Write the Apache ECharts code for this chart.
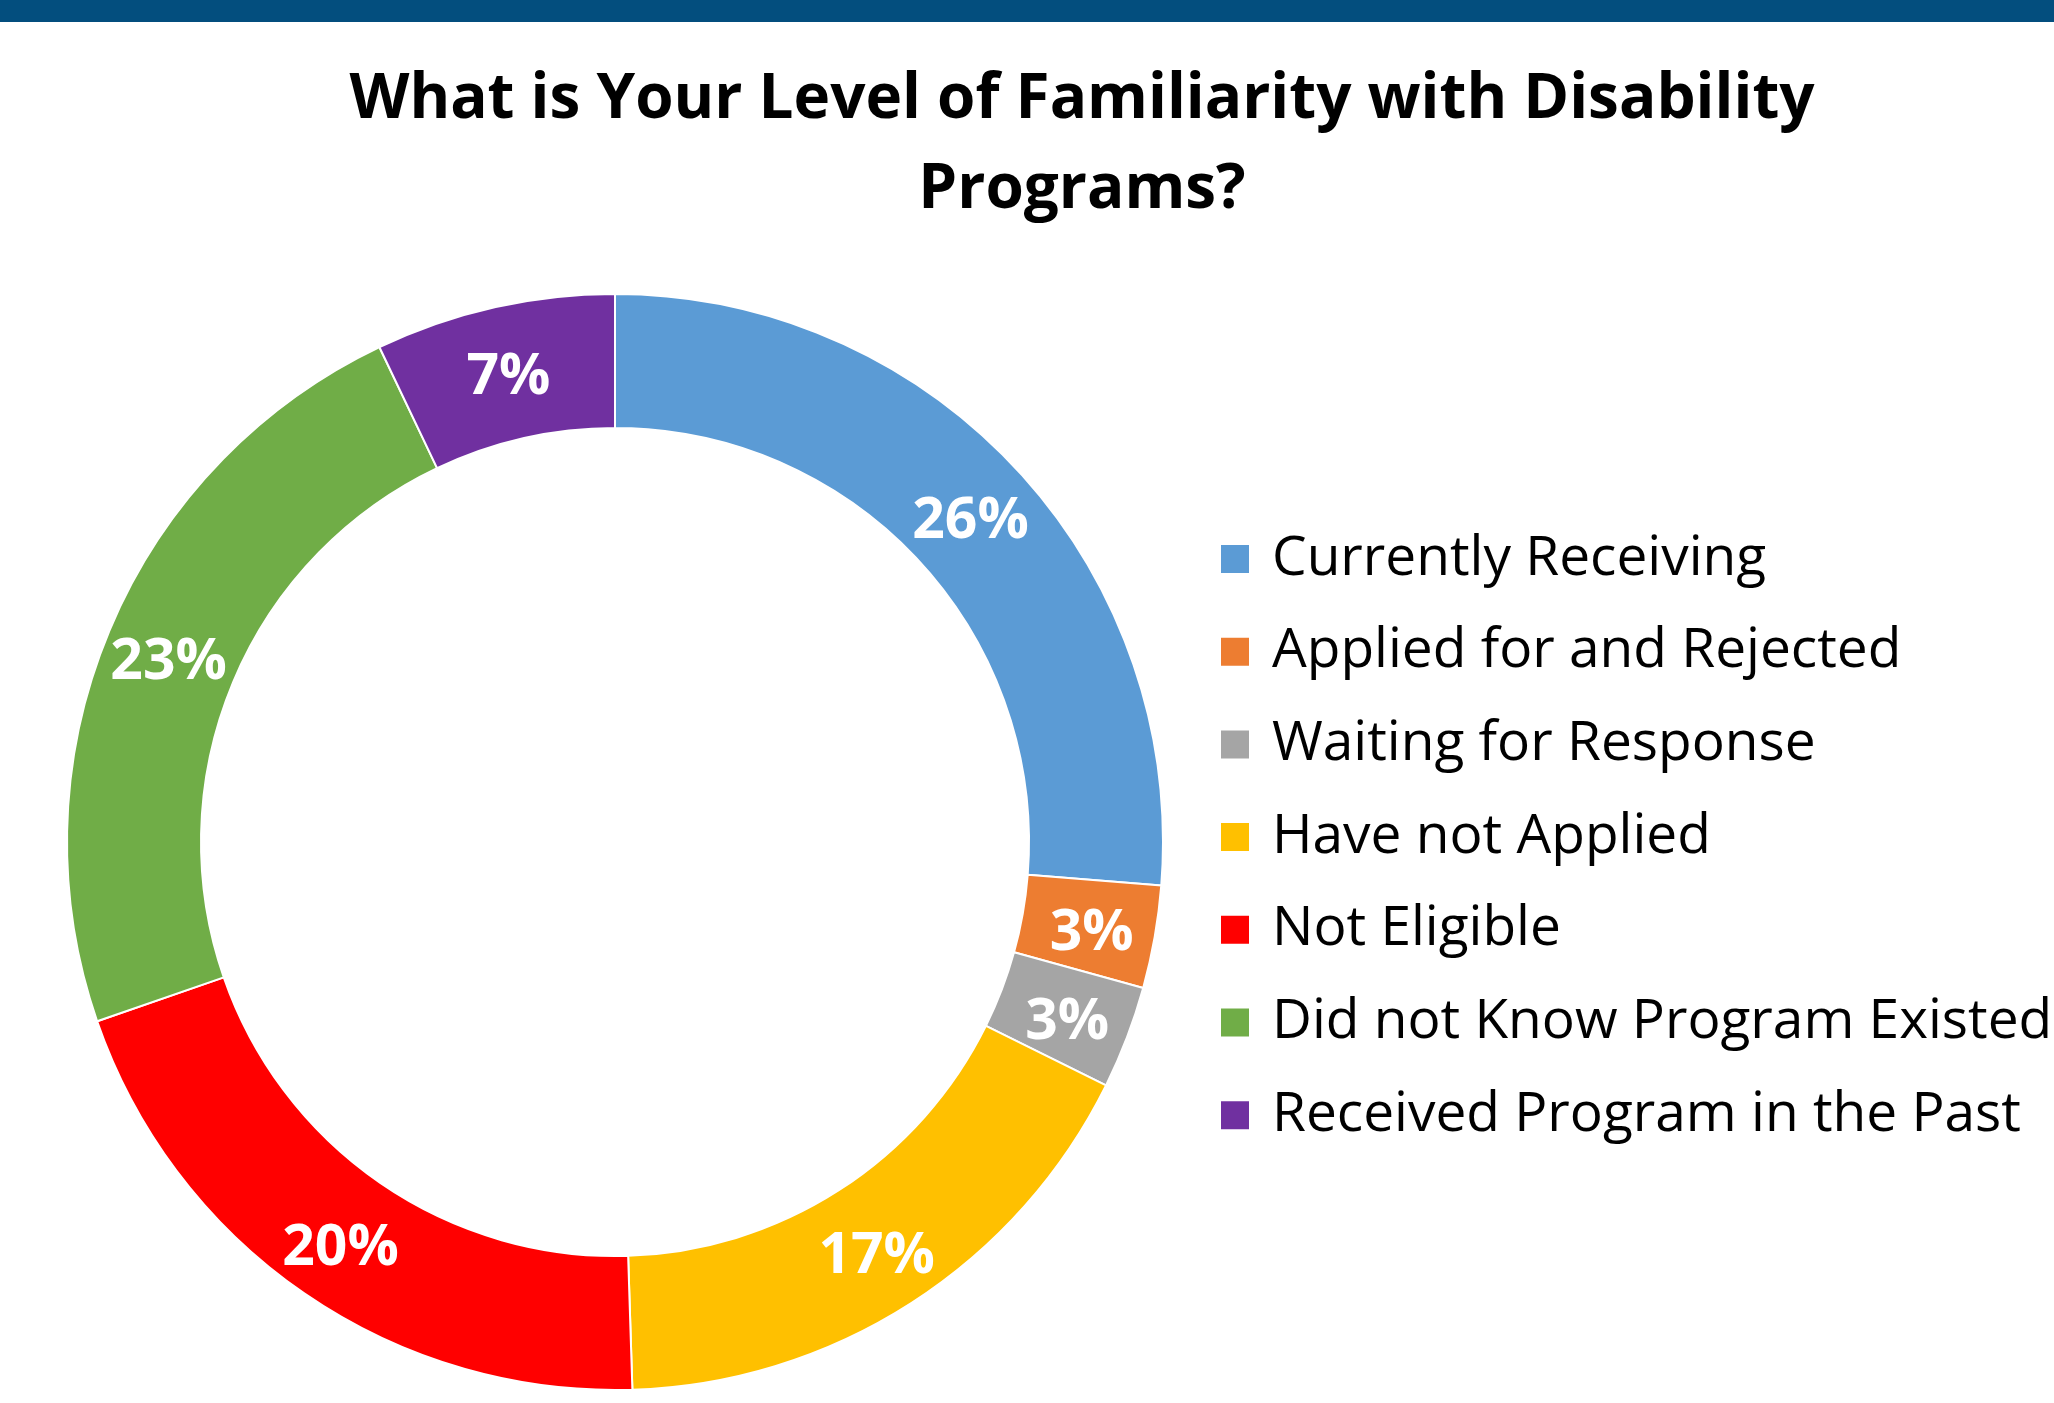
<!DOCTYPE html>
<html>
<head>
<meta charset="utf-8">
<script src="https://cdn.jsdelivr.net/npm/echarts@6/dist/echarts.min.js"></script>
<style>
html,body{margin:0;padding:0;background:#fff;}
#bar{position:absolute;left:0;top:0;width:2054px;height:22px;background:#034E7E;}
#chart{position:absolute;left:0;top:0;width:2054px;height:1403px;}
</style>
</head>
<body>
<div id="chart"></div>
<div id="bar"></div>
<script>
const titleText = 'What is Your Level of Familiarity with Disability\nPrograms?';
const categories = ['Currently Receiving','Applied for and Rejected','Waiting for Response','Have not Applied','Not Eligible','Did not Know Program Existed','Received Program in the Past'];
const values = [26, 3, 3, 17, 20, 23, 7];
const colors = ['#5B9BD5','#ED7D31','#A5A5A5','#FFC000','#FF0000','#70AD47','#7030A0'];

const chart = echarts.init(document.getElementById('chart'));
chart.setOption({
  animation: false,
  color: colors,
  title: {
    text: titleText,
    left: 1077,
    top: 50,
    textAlign: 'center',
    textStyle: {fontFamily: 'Open Sans', fontWeight: 'bold', fontSize: 62, lineHeight: 90, color: '#000'}
  },
  legend: {
    orient: 'vertical',
    left: 1219,
    top: 529,
    padding: 0,
    itemWidth: 30,
    itemHeight: 30,
    itemGap: 32.7,
    icon: 'rect',
    textStyle: {fontFamily: 'Open Sans', fontSize: 55, lineHeight: 60, color: '#000', padding: [0,0,0,17]},
    data: categories
  },
  series: [{
    type: 'pie',
    center: [615, 842],
    radius: [414, 548],
    startAngle: 90,
    clockwise: true,
    avoidLabelOverlap: false,
    itemStyle: {borderColor: '#fff', borderWidth: 2},
    label: {
      show: true,
      position: 'inside',
      formatter: '{c}%',
      color: '#fff',
      fontFamily: 'Open Sans',
      fontWeight: 'bold',
      fontSize: 57,
      offset: [0, 8]
    },
    labelLine: {show: false},
    data: categories.map((c, i) => ({name: c, value: values[i]}))
  }]
});
</script>
</body>
</html>
